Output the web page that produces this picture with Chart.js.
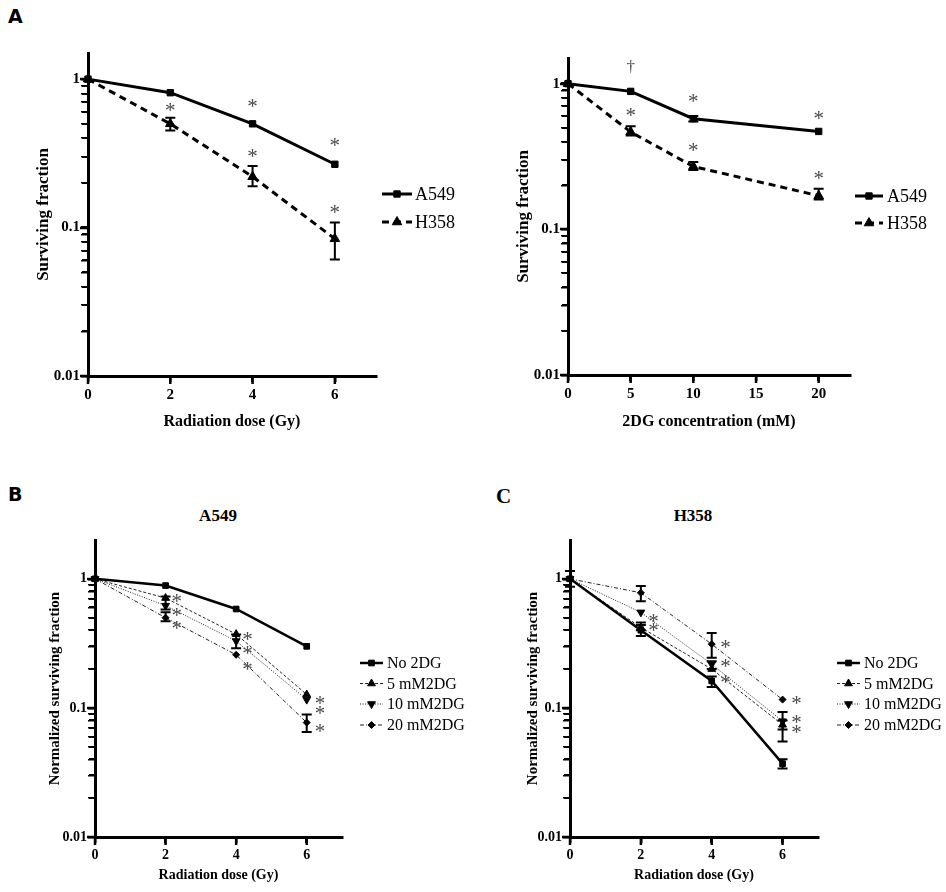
<!DOCTYPE html>
<html>
<head>
<meta charset="utf-8">
<script src="https://cdn.jsdelivr.net/npm/chart.js@4.4.1/dist/chart.umd.min.js"></script>
<style>
  html, body { margin: 0; padding: 0; background: #fff; }
  body { width: 946px; height: 892px; position: relative; overflow: hidden; font-family: 'Liberation Serif', 'Times New Roman', serif; }
  canvas { position: absolute; }
  .txt { position: absolute; color: #000; white-space: nowrap; line-height: 1; }
</style>
</head>
<body>
<div class="txt" style="left:8px;top:7px;font-family:'DejaVu Sans',sans-serif;font-weight:bold;font-size:19px;">A</div>
<div class="txt" style="left:8px;top:485px;font-family:'DejaVu Sans',sans-serif;font-weight:bold;font-size:19px;">B</div>
<div class="txt" style="left:496px;top:486px;font-family:'Liberation Serif',serif;font-weight:bold;font-size:21px;">C</div>
<div class="txt" style="left:218px;top:507px;transform:translateX(-50%);font-family:'Liberation Serif',serif;font-weight:bold;font-size:17px;">A549</div>
<div class="txt" style="left:693px;top:507px;transform:translateX(-50%);font-family:'Liberation Serif',serif;font-weight:bold;font-size:17px;">H358</div>

<canvas id="cA1" width="470" height="445" style="left:0;top:0"></canvas>
<canvas id="cA2" width="476" height="445" style="left:470px;top:0"></canvas>
<canvas id="cB" width="470" height="447" style="left:0;top:445px"></canvas>
<canvas id="cC" width="476" height="447" style="left:470px;top:445px"></canvas>

<script>
// ---------------- DATA ----------------
const doseGy = [0, 2, 4, 6];
const conc2DG = [0, 5, 10, 20];
const doseTicks = [0, 2, 4, 6];
const concTicks = [0, 5, 10, 15, 20];
const yMajorTicks = [0.01, 0.1, 1];
const yMajorLabels = ['0.01', '0.1', '1'];
const yMinorMantissas = [2, 3, 4, 5, 6, 7, 8, 9];

// Panel A (left): radiation dose
const a549Rad = [1, 0.81, 0.50, 0.267];
const h358Rad = [1, 0.50, 0.22, 0.084];
const h358RadErr = [null, [0.45, 0.55], [0.19, 0.26], [0.061, 0.108]];
const sigRad = [
  {x: 4, y: 0.69, t: '*'}, {x: 6, y: 0.38, t: '*'},
  {x: 2, y: 0.65, t: '*'}, {x: 4, y: 0.316, t: '*'}, {x: 6, y: 0.134, t: '*'}
];

// Panel A (right): 2DG concentration
const a5492DG = [1, 0.885, 0.575, 0.47];
const a5492DGErr = [null, null, [0.55, 0.60], null];
const h3582DG = [1, 0.466, 0.27, 0.17];
const h3582DGErr = [null, [0.44, 0.51], [0.255, 0.29], [0.16, 0.19]];
const sig2DG = [
  {x: 5, y: 1.31, t: '\u2020'}, {x: 10, y: 0.80, t: '*'}, {x: 20, y: 0.61, t: '*'},
  {x: 5, y: 0.64, t: '*'}, {x: 10, y: 0.37, t: '*'}, {x: 20, y: 0.237, t: '*'}
];

// Panel B: A549 normalized
const bNo2DG = [1, 0.887, 0.584, 0.30];
const b5mM = [1, 0.71, 0.373, 0.127];
const b10mM = [1, 0.62, 0.33, 0.116];
const b10mMErr = [null, [0.58, 0.73], [0.29, 0.37], null];
const b20mM = [1, 0.50, 0.258, 0.077];
const b20mMErr = [null, [0.47, 0.55], null, [0.065, 0.089]];
const sigB = [
  {x: 2.32, y: 0.707, t: '*'}, {x: 2.32, y: 0.557, t: '*'}, {x: 2.32, y: 0.44, t: '*'},
  {x: 4.32, y: 0.362, t: '*'}, {x: 4.32, y: 0.282, t: '*'}, {x: 4.32, y: 0.211, t: '*'},
  {x: 6.38, y: 0.116, t: '*'}, {x: 6.38, y: 0.096, t: '*'}, {x: 6.38, y: 0.070, t: '*'}
];

// Panel C: H358 normalized
const cNo2DG = [1, 0.40, 0.162, 0.037];
const cNo2DGErr = [null, [0.36, 0.44], [0.145, 0.175], [0.034, 0.040]];
const c5mM = [1, 0.42, 0.20, 0.074];
const c5mMErr = [null, [0.40, 0.46], null, [0.055, 0.08]];
const c10mM = [1, 0.55, 0.218, 0.079];
const c10mMErr = [null, null, [0.20, 0.23], [0.068, 0.093]];
const c20mM = [1, 0.78, 0.312, 0.116];
const c20mMErr = [[0.87, 1.15], [0.67, 0.88], [0.245, 0.38], null];
const sigC = [
  {x: 2.36, y: 0.494, t: '*'}, {x: 2.36, y: 0.42, t: '*'},
  {x: 4.39, y: 0.312, t: '*'}, {x: 4.39, y: 0.221, t: '*'}, {x: 4.39, y: 0.169, t: '*'},
  {x: 6.39, y: 0.115, t: '*'}, {x: 6.39, y: 0.082, t: '*'}, {x: 6.39, y: 0.069, t: '*'}
];

const legendTwo = ['A549', 'H358'];
const legendFour = ['No 2DG', '5 mM2DG', '10 mM2DG', '20 mM2DG'];

// ---------------- HELPERS ----------------
const SERIF = "'Liberation Serif', 'Times New Roman', serif";
const yTickValues = [];
yMajorTicks.forEach((m, i) => {
  yTickValues.push({value: m, major: true, label: yMajorLabels[i]});
  if (i < yMajorTicks.length - 1) yMinorMantissas.forEach(k => yTickValues.push({value: m * k, major: false, label: ''}));
});

function pts(xs, ys) { return xs.map((x, i) => ({x: x, y: ys[i]})); }

const errorBarPlugin = {
  id: 'errorBars',
  afterDatasetsDraw(chart) {
    const ctx = chart.ctx, xs = chart.scales.x, ys = chart.scales.y;
    chart.data.datasets.forEach(ds => {
      if (!ds.errorBars) return;
      ctx.save();
      ctx.strokeStyle = '#000';
      ctx.lineWidth = ds.errWidth || 2;
      ctx.setLineDash([]);
      ds.errorBars.forEach((e, j) => {
        if (!e) return;
        const x = xs.getPixelForValue(ds.data[j].x);
        const y1 = ys.getPixelForValue(e[0]), y2 = ys.getPixelForValue(e[1]);
        const c = ds.capHalf || 5;
        ctx.beginPath();
        ctx.moveTo(x, y1); ctx.lineTo(x, y2);
        ctx.moveTo(x - c, y1); ctx.lineTo(x + c, y1);
        ctx.moveTo(x - c, y2); ctx.lineTo(x + c, y2);
        ctx.stroke();
      });
      ctx.restore();
    });
  }
};

// outward tick marks drawn at each scale tick (log minor ticks shorter)
const tickMarkPlugin = {
  id: 'tickMarks',
  afterDraw(chart) {
    const ctx = chart.ctx, xs = chart.scales.x, ys = chart.scales.y, ca = chart.chartArea;
    ctx.save();
    ctx.strokeStyle = '#000';
    ctx.setLineDash([]);
    ys.ticks.forEach(t => {
      const y = Math.round(ys.getPixelForValue(t.value));
      ctx.lineWidth = t.major ? 2.5 : 2;
      const len = t.major ? 8 : 6;
      ctx.beginPath(); ctx.moveTo(ca.left, y); ctx.lineTo(ca.left - len, y); ctx.stroke();
    });
    xs.ticks.forEach(t => {
      const x = xs.getPixelForValue(t.value);
      ctx.lineWidth = 2.5;
      ctx.beginPath(); ctx.moveTo(x, ca.bottom); ctx.lineTo(x, ca.bottom + 8); ctx.stroke();
    });
    ctx.restore();
  }
};

const sigPlugin = {
  id: 'sigMarks',
  afterDatasetsDraw(chart, args, opts) {
    if (!opts || !opts.marks) return;
    const ctx = chart.ctx, xs = chart.scales.x, ys = chart.scales.y;
    ctx.save();
    ctx.fillStyle = opts.color || '#444';
    ctx.textAlign = 'center';
    ctx.textBaseline = 'alphabetic';
    opts.marks.forEach(m => {
      ctx.font = (m.t === '*' ? opts.font : opts.daggerFont);
      const mt = ctx.measureText(m.t);
      const x = xs.getPixelForValue(m.x), y = ys.getPixelForValue(m.y);
      const off = (mt.actualBoundingBoxAscent - mt.actualBoundingBoxDescent) / 2;
      ctx.fillText(m.t, x, y + off);
    });
    ctx.restore();
  }
};

const sideLegendPlugin = {
  id: 'sideLegend',
  afterDraw(chart, args, opts) {
    if (!opts || !opts.ys) return;
    const ctx = chart.ctx;
    chart.data.datasets.forEach((ds, i) => {
      const y = opts.ys[i];
      ctx.save();
      ctx.strokeStyle = ds.borderColor;
      ctx.lineWidth = ds.borderWidth;
      ctx.setLineDash(ds.borderDash || []);
      ctx.beginPath(); ctx.moveTo(opts.x0, y); ctx.lineTo(opts.x1, y); ctx.stroke();
      ctx.setLineDash([]);
      ctx.fillStyle = ds.pointBackgroundColor;
      ctx.strokeStyle = ds.pointBorderColor;
      ctx.lineWidth = 1;
      Chart.helpers.drawPoint(ctx, {pointStyle: ds.pointStyle, rotation: ds.pointRotation || 0, radius: ds.pointRadius, borderWidth: 1}, (opts.x0 + opts.x1) / 2, y);
      ctx.fillStyle = '#000';
      ctx.font = opts.font;
      ctx.textAlign = 'left';
      ctx.textBaseline = 'middle';
      ctx.fillText(ds.label, opts.textX, y + 1);
      ctx.restore();
    });
  }
};

function yScale(g) {
  return {
    type: 'logarithmic', position: 'left', min: 0.01, max: g.yMax,
    afterBuildTicks: s => { s.ticks = yTickValues.map(t => ({value: t.value, major: t.major})); },
    afterFit: s => { s.width = g.yW; },
    ticks: {
      autoSkip: false, color: '#000', padding: 1,
      font: {family: SERIF, weight: 'bold', size: g.tickSize},
      callback: (v, i) => yTickValues[i].label
    },
    grid: {drawOnChartArea: false, drawTicks: true, tickLength: 7, color: '#000', tickColor: '#000',
      lineWidth: c => (c.tick && c.tick.major) ? 2.5 : 1.5,
      tickWidth: c => (c.tick && c.tick.major) ? 2.5 : 1.5},
    border: {display: true, width: 3, color: '#000'},
    title: {display: true, text: g.yTitle, color: '#000', padding: 0,
      font: {family: SERIF, weight: 'bold', size: g.yTitleSize}}
  };
}

function xScale(g) {
  return {
    type: 'linear', position: 'bottom', min: 0, max: g.xMax,
    afterBuildTicks: s => { s.ticks = g.xTicks.map(v => ({value: v})); },
    afterFit: s => { s.height = g.xH; },
    ticks: {autoSkip: false, color: '#000', padding: 4, maxRotation: 0,
      font: {family: SERIF, weight: 'bold', size: g.tickSize}},
    grid: {drawOnChartArea: false, drawTicks: true, tickLength: 6, color: '#000', tickColor: '#000', lineWidth: 2.5, tickWidth: 2.5},
    border: {display: true, width: 3, color: '#000'},
    title: {display: true, text: g.xTitle, color: '#000', padding: 0,
      font: {family: SERIF, weight: 'bold', size: g.xTitleSize}}
  };
}

function ds(label, xs, ys, style, err) {
  return Object.assign({
    label: label, data: pts(xs, ys), showLine: true, tension: 0,
    borderColor: '#000', pointBackgroundColor: '#000', pointBorderColor: '#000',
    pointBorderWidth: 1, pointHoverRadius: style.pointRadius, clip: false,
    errorBars: err || null, fill: false
  }, style);
}

function makeChart(id, g, datasets, legend, marks) {
  return new Chart(document.getElementById(id), {
    type: 'line',
    data: {datasets: datasets},
    plugins: [errorBarPlugin, sigPlugin, sideLegendPlugin, tickMarkPlugin],
    options: {
      responsive: false, maintainAspectRatio: false, animation: false, events: [],
      devicePixelRatio: 1,
      layout: {padding: g.pad},
      scales: {x: xScale(g), y: yScale(g)},
      plugins: {
        legend: {display: false}, tooltip: {enabled: false}, title: {display: false},
        sideLegend: legend,
        sigMarks: {marks: marks, font: "21px " + SERIF, daggerFont: "17px " + SERIF, color: '#4a4a4a'}
      }
    }
  });
}

const thick = {
  solidSq: {borderWidth: 3, pointStyle: 'rect', pointRadius: 4.5},
  dashTri: {borderWidth: 3, borderDash: [7, 5], pointStyle: 'triangle', pointRadius: 5.5}
};
const thin = {
  no: {borderWidth: 2.5, pointStyle: 'rect', pointRadius: 4},
  five: {borderWidth: 1, borderColor: '#222', borderDash: [3, 2], pointStyle: 'triangle', pointRadius: 4.5},
  ten: {borderWidth: 1, borderColor: '#222', borderDash: [1, 1.5], pointStyle: 'triangle', pointRotation: 180, pointRadius: 4.5},
  twenty: {borderWidth: 1, borderColor: '#222', borderDash: [4, 2, 1, 2], pointStyle: 'rectRot', pointRadius: 3.5}
};

// ---------------- CHARTS ----------------
makeChart('cA1',
  {yMax: 1.5, xMax: 7, xTicks: doseTicks, yW: 55, xH: 55, tickSize: 15,
   pad: {left: 33, right: 94, top: 53, bottom: 14},
   yTitle: 'Surviving fraction', yTitleSize: 17, xTitle: 'Radiation dose (Gy)', xTitleSize: 16},
  [ds(legendTwo[0], doseGy, a549Rad, thick.solidSq),
   ds(legendTwo[1], doseGy, h358Rad, thick.dashTri, h358RadErr)],
  {x0: 382, x1: 412, textX: 415, ys: [194, 222], font: "18px " + SERIF},
  sigRad);

makeChart('cA2',
  {yMax: 1.5, xMax: 22.5, xTicks: concTicks, yW: 55, xH: 56, tickSize: 15,
   pad: {left: 43, right: 96, top: 58, bottom: 14},
   yTitle: 'Surviving fraction', yTitleSize: 17, xTitle: '2DG concentration (mM)', xTitleSize: 16},
  [ds(legendTwo[0], conc2DG, a5492DG, thick.solidSq, a5492DGErr),
   ds(legendTwo[1], conc2DG, h3582DG, thick.dashTri, h3582DGErr)],
  {x0: 385, x1: 413, textX: 417, ys: [196, 223], font: "18px " + SERIF},
  sig2DG);

makeChart('cB',
  {yMax: 2, xMax: 7, xTicks: doseTicks, yW: 49, xH: 47, tickSize: 14,
   pad: {left: 46, right: 128, top: 95, bottom: 8},
   yTitle: 'Normalized surviving fraction', yTitleSize: 15, xTitle: 'Radiation dose (Gy)', xTitleSize: 14},
  [ds(legendFour[0], doseGy, bNo2DG, thin.no),
   ds(legendFour[1], doseGy, b5mM, thin.five),
   ds(legendFour[2], doseGy, b10mM, thin.ten, b10mMErr),
   ds(legendFour[3], doseGy, b20mM, thin.twenty, b20mMErr)],
  {x0: 360, x1: 383, textX: 387, ys: [218, 238.5, 259, 280], font: "16px " + SERIF},
  sigB);

makeChart('cC',
  {yMax: 2, xMax: 7, xTicks: doseTicks, yW: 46, xH: 47, tickSize: 14,
   pad: {left: 54, right: 128, top: 95, bottom: 8},
   yTitle: 'Normalized surviving fraction', yTitleSize: 15, xTitle: 'Radiation dose (Gy)', xTitleSize: 14},
  [ds(legendFour[0], doseGy, cNo2DG, thin.no, cNo2DGErr),
   ds(legendFour[1], doseGy, c5mM, thin.five, c5mMErr),
   ds(legendFour[2], doseGy, c10mM, thin.ten, c10mMErr),
   ds(legendFour[3], doseGy, c20mM, thin.twenty, c20mMErr)],
  {x0: 367, x1: 390, textX: 394, ys: [218, 238.5, 259, 280], font: "16px " + SERIF},
  sigC);
</script>
</body>
</html>
